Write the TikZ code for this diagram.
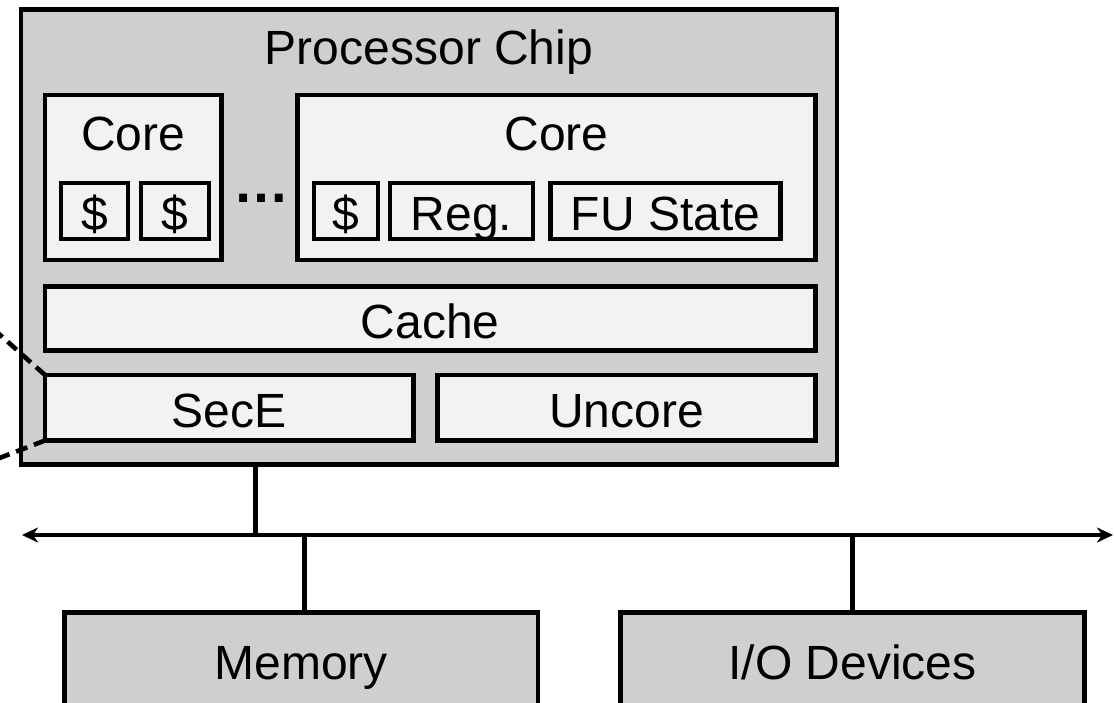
\documentclass[tikz,border=0pt]{standalone}
\usepackage{fontspec}
\setmainfont{Liberation Sans}
\usetikzlibrary{arrows.meta}
\definecolor{chipgray}{RGB}{208,206,207}
\definecolor{boxlight}{RGB}{242,242,242}
\tikzset{
  base/.style={draw=black, line width=4.8pt, inner sep=0pt, outer sep=0pt,
    font=\fontsize{48}{52}\selectfont, text height=39pt, text depth=0pt},
  graybox/.style={base, fill=chipgray},
  lightbox/.style={base, fill=boxlight},
  title/.style={font=\fontsize{48}{52}\selectfont, anchor=base, inner sep=0pt},
  wire/.style={line width=4.6pt},
  zoomline/.style={line width=4.6pt, dash pattern=on 12pt off 7pt},
}
\begin{document}
\begin{tikzpicture}[x=1pt,y=-1pt]
\useasboundingbox (0,0) rectangle (1114,703);
\clip (0,0) rectangle (1114,703);
% chip
\node[graybox, minimum width=816pt, minimum height=455pt] (chip) at (429,237) {};
\node[title] (chiplabel) at (429,65) {Processor Chip};
% cores
\node[lightbox, minimum width=176.5pt, minimum height=165pt] (core1) at (133.25,177.5) {};
\node[title] (core1label) at (133.25,151) {Core};
\node[lightbox, minimum width=518pt, minimum height=165pt] (core2) at (556.5,177.5) {};
\node[title] (core2label) at (556.5,151) {Core};
\node[lightbox, minimum width=67pt, minimum height=56pt] (c1a) at (94.5,211) {\$};
\node[lightbox, minimum width=68pt, minimum height=56pt] (c1b) at (175,211) {\$};
\node[lightbox, minimum width=64pt, minimum height=56pt] (c2a) at (346,211) {\$};
\node[lightbox, minimum width=143pt, minimum height=56pt] (reg) at (461.5,211) {Reg.};
\node[lightbox, minimum width=230pt, minimum height=56pt] (fu) at (665.5,211) {FU State};
\node[anchor=base, inner sep=0pt, font=\fontsize{56}{60}\selectfont\bfseries] (dots) at (261,203) {\textellipsis};
% cache, SecE, uncore
\node[lightbox, minimum width=770.5pt, minimum height=64pt] (cache) at (430.25,318.5) {Cache};
\node[lightbox, minimum width=368.5pt, minimum height=65.5pt] (sece) at (229.25,407.75) {SecE};
\node[lightbox, minimum width=378pt, minimum height=65.5pt] (uncore) at (626.5,407.75) {Uncore};
% zoom lines
\coordinate (zu) at (-10,326);
\coordinate (zl) at (-10,461.7);
\draw[zoomline] (sece.north west) -- (zu);
\draw[zoomline] (sece.south west) -- (zl);
% memory and I/O
\node[graybox, minimum width=473.5pt, minimum height=94.5pt] (mem) at (301.25,659.75) {Memory};
\node[graybox, minimum width=464pt, minimum height=94.5pt] (io) at (852.5,659.75) {I/O Devices};
% bus
\coordinate (busL) at (22,535);
\coordinate (busR) at (1113,535);
\coordinate (tapchip) at (255.5,535);
\coordinate (tapmem) at (304.5,535);
\coordinate (tapio) at (852.5,535);
\draw[wire, {Stealth[length=16pt,width=15pt,inset=5pt]}-{Stealth[length=16pt,width=15pt,inset=5pt]}] (busL) -- (busR);
\draw[wire] (tapchip |- chip.south) -- (tapchip);
\draw[wire] (tapmem) -- (tapmem |- mem.north);
\draw[wire] (tapio) -- (io.north);
\end{tikzpicture}
\end{document}
